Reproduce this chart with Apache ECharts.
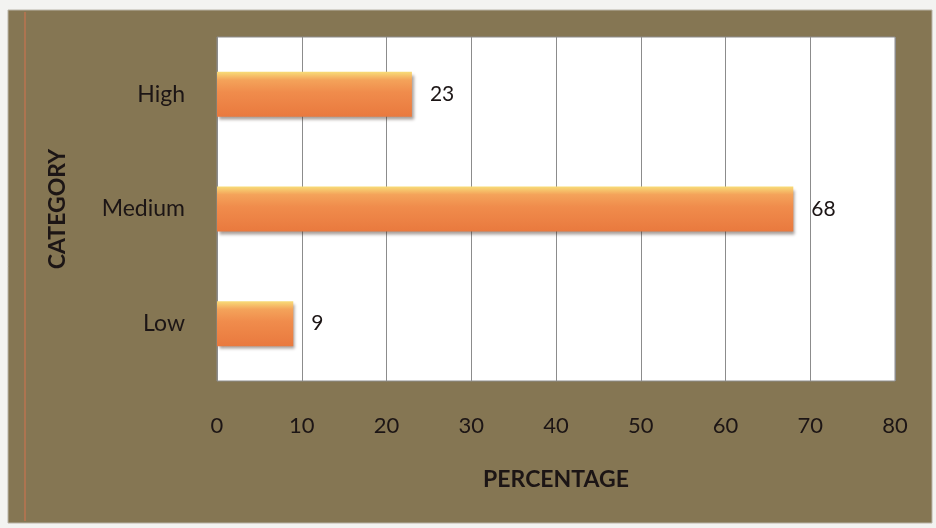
<!DOCTYPE html>
<html>
<head>
<meta charset="utf-8">
<script src="https://cdn.jsdelivr.net/npm/echarts@6/dist/echarts.min.js"></script>
<style>
  html, body { margin: 0; padding: 0; background: #f3f3f1; }
  #chart { width: 936px; height: 528px; }
</style>
</head>
<body>
<div id="chart"></div>
<script>
// Risk categories, drawn bottom-to-top on the category axis
const categories = ['Low', 'Medium', 'High'];
const percentages = [9, 68, 23];
const xTicks = { min: 0, max: 80, interval: 10 };

const FONT = 'Lato, "Open Sans", sans-serif';
const TEXT = '#1c1515';

const chart = echarts.init(document.getElementById('chart'), null, { renderer: 'canvas' });

chart.setOption({
  backgroundColor: '#f3f3f1',
  animation: false,
  graphic: [
    {
      type: 'rect', z: -10, silent: true,
      shape: { x: 8, y: 10, width: 924, height: 513 },
      style: { fill: '#857653', stroke: '#b9b4a8', lineWidth: 1 }
    },
    {
      type: 'line', z: -9, silent: true,
      shape: { x1: 25, y1: 12, x2: 25, y2: 521 },
      style: { stroke: '#c8744f', lineWidth: 1.5, opacity: 0.8 }
    }
  ],
  grid: {
    left: 217, right: 41, top: 37, bottom: 147,
    show: true, backgroundColor: '#ffffff', borderColor: '#8c8c8c', borderWidth: 1
  },
  xAxis: {
    type: 'value',
    min: xTicks.min, max: xTicks.max, interval: xTicks.interval,
    name: 'PERCENTAGE', nameLocation: 'middle', nameGap: 87,
    nameTextStyle: { fontFamily: FONT, fontSize: 23, fontWeight: 'bold', color: TEXT },
    axisLine: { show: false },
    axisTick: { show: false },
    axisLabel: { fontFamily: FONT, fontSize: 22, color: TEXT, margin: 34 },
    splitLine: { lineStyle: { color: '#8c8c8c', width: 1 } }
  },
  yAxis: {
    type: 'category',
    data: categories,
    name: 'CATEGORY', nameLocation: 'middle', nameGap: 148, nameRotate: 90,
    nameTextStyle: { fontFamily: FONT, fontSize: 23, fontWeight: 'bold', color: TEXT },
    axisLine: { show: false },
    axisTick: { show: false },
    axisLabel: { fontFamily: FONT, fontSize: 23, color: TEXT, margin: 32 },
    splitLine: { show: false }
  },
  series: [{
    type: 'bar',
    data: percentages,
    barWidth: 45,
    itemStyle: {
      color: new echarts.graphic.LinearGradient(0, 0, 0, 1, [
        { offset: 0, color: '#f8dc78' },
        { offset: 0.18, color: '#f4a35a' },
        { offset: 0.45, color: '#f08c4c' },
        { offset: 1, color: '#e9793e' }
      ]),
      shadowColor: 'rgba(60,40,30,0.45)',
      shadowBlur: 3, shadowOffsetX: 2, shadowOffsetY: 3
    },
    label: {
      show: true, position: 'right', distance: 18,
      fontFamily: FONT, fontSize: 21, color: TEXT
    }
  }]
});
</script>
</body>
</html>
